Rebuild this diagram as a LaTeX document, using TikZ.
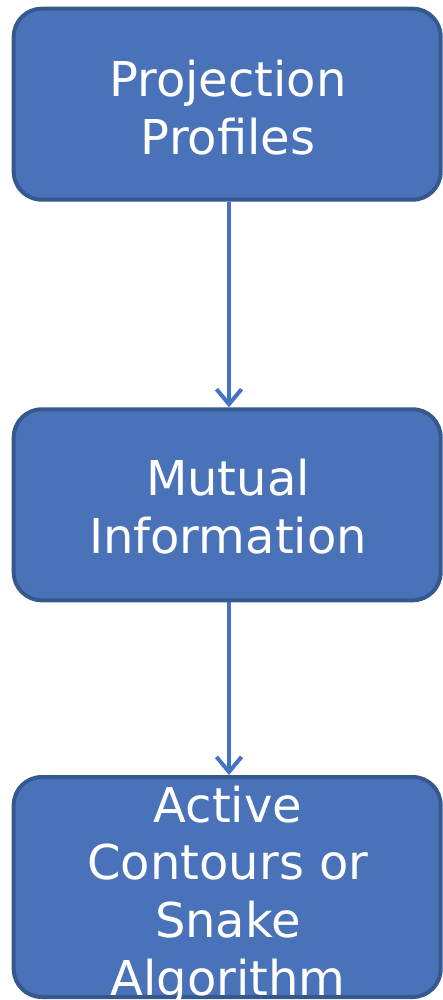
\documentclass[tikz,border=0pt]{standalone}
\usepackage{fontspec}
\setmainfont{DejaVu Sans}
\usetikzlibrary{arrows.meta}
\definecolor{boxfill}{HTML}{4A72B8}
\definecolor{boxline}{HTML}{35598F}
\definecolor{linkcol}{HTML}{4472C4}
\begin{document}
\begin{tikzpicture}[x=1pt,y=-1pt,
  stagebox/.style={draw=boxline, fill=boxfill, line width=4pt, rounded corners=28pt,
    rectangle, minimum width=427pt, inner sep=0pt},
  stagetext/.style={anchor=base, text=white, inner sep=0pt,
    font=\fontsize{48}{58}\selectfont},
  link/.style={draw=linkcol, line width=4.5pt,
    -{Straight Barb[length=15pt,width=25pt,line width=4pt]}}]
  \useasboundingbox (0,0) rectangle (443,1000);

  % stage boxes
  \node[stagebox, minimum height=191pt] (b1) at (227.2,104.2) {};
  \node[stagebox, minimum height=191pt] (b2) at (227.2,504.8) {};
  \node[stagebox, minimum height=220pt] (b3) at (227.2,887) {};

  % labels, one node per line
  \node[stagetext] (t1a) at (228,97) {Projection};
  \node[stagetext] (t1b) at (228,155) {Profiles};
  \node[stagetext] (t2a) at (228,495) {Mutual};
  \node[stagetext] (t2b) at (228,553) {Information};
  \node[stagetext] (t3a) at (228,822) {Active};
  \node[stagetext] (t3b) at (228,879) {Contours or};
  \node[stagetext] (t3c) at (228,937) {Snake};
  \node[stagetext] (t3d) at (228,995) {Algorithm};

  % connectors
  \draw[link] ([xshift=1.8pt]b1.south) -- ([xshift=1.8pt]b2.north);
  \draw[link] ([xshift=1.8pt]b2.south) -- ([xshift=1.8pt]b3.north);
\end{tikzpicture}
\end{document}
